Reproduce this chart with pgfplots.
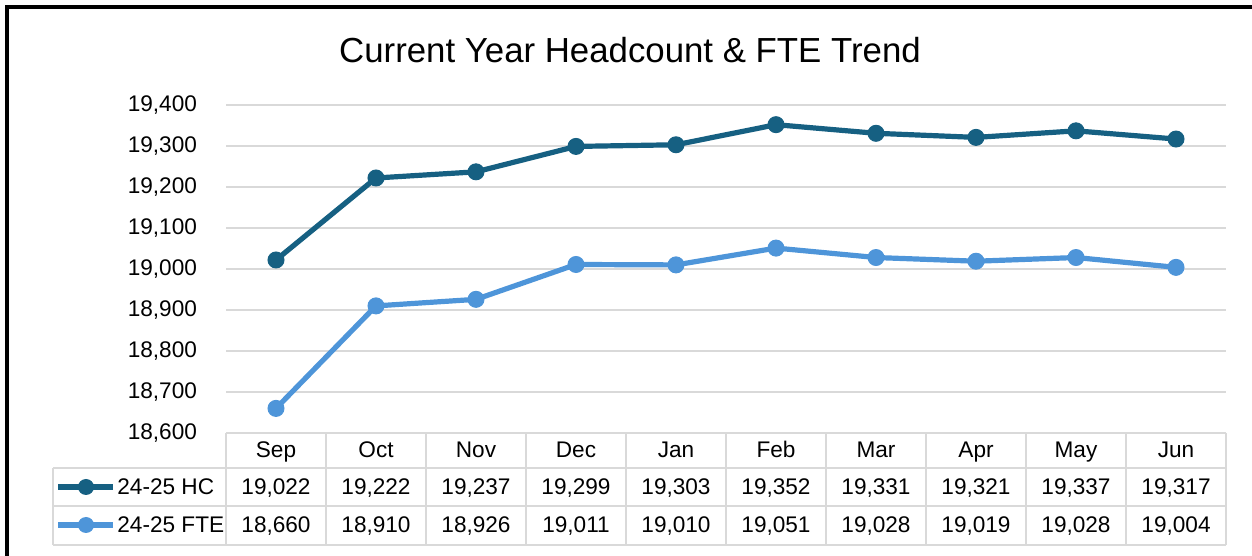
\documentclass[border=0pt]{standalone}
\usepackage{fontspec}
\setmainfont{Liberation Sans}
\usepackage{pgfplots}
\usepackage{pgfplotstable}
\pgfplotsset{compat=1.18}
\pgfkeys{/pgf/number format/.cd, 1000 sep={,}, assume math mode=true}

\definecolor{hc}{RGB}{22,96,130}
\definecolor{fte}{RGB}{78,149,217}
\definecolor{gridgray}{RGB}{217,217,217}

% month index, month, headcount, FTE
\pgfplotstableread{
x month hc fte
0 Sep 19022 18660
1 Oct 19222 18910
2 Nov 19237 18926
3 Dec 19299 19011
4 Jan 19303 19010
5 Feb 19352 19051
6 Mar 19331 19028
7 Apr 19321 19019
8 May 19337 19028
9 Jun 19317 19004
}\trend

\begin{document}
\begin{tikzpicture}[x=1pt,y=1pt,font=\fontsize{11.3}{13}\selectfont]
\path[use as bounding box] (0pt,0pt) rectangle (626pt,278pt);

% chart frame (only left and top edges are inside the picture)
\draw[line width=2pt] (3.5pt,0pt) -- (3.5pt,274.5pt) -- (626pt,274.5pt);

\node[font=\fontsize{17.4}{20}\selectfont] at (315pt,253pt) {Current Year Headcount \& FTE Trend};

\begin{axis}[
  at={(113pt,61.5pt)}, anchor=south west,
  scale only axis, width=500pt, height=164pt,
  xmin=-0.5, xmax=9.5,
  ymin=18600, ymax=19400,
  ytick={18600,18700,...,19400},
  scaled y ticks=false,
  xtick=\empty,
  axis line style={draw=none},
  major tick length=0pt,
  ymajorgrids, grid style={gridgray, line width=0.8pt},
  yticklabel style={xshift=-11pt},
  /pgf/number format/1000 sep={,},
  /pgf/number format/assume math mode=true,
  clip=false,
]
\addplot[hc, line width=2.6pt, mark=*, mark size=4pt, mark options={line width=0.5pt}]
  table[x=x, y=hc] {\trend};
\addplot[fte, line width=2.6pt, mark=*, mark size=4pt, mark options={line width=0.5pt}]
  table[x=x, y=fte] {\trend};
\end{axis}

% data table below the plot
\begin{scope}[gridgray, line width=0.8pt]
  \draw (113pt,61.5pt) -- (613pt,61.5pt);
  \foreach \y in {44,25,5.5} \draw (26.5pt,\y pt) -- (613pt,\y pt);
  \draw (26.5pt,44pt) -- (26.5pt,5.5pt);
  \foreach \k in {0,...,10} \draw (113pt+50pt*\k,61.5pt) -- (113pt+50pt*\k,5.5pt);
\end{scope}

% legend keys
\draw[hc, line width=2.6pt] (29pt,34.5pt) -- (56.5pt,34.5pt);
\fill[hc] (43pt,34.5pt) circle (4pt);
\node[anchor=base west, inner sep=0pt] at (58.5pt,30.5pt) {24-25 HC};
\draw[fte, line width=2.6pt] (29pt,15.5pt) -- (56.5pt,15.5pt);
\fill[fte] (43pt,15.5pt) circle (4pt);
\node[anchor=base west, inner sep=0pt] at (58.5pt,11.5pt) {24-25 FTE};

\foreach \i in {0,...,9} {
  \pgfplotstablegetelem{\i}{month}\of\trend
  \node[anchor=base] at (138pt+50pt*\i,49pt) {\pgfplotsretval};
  \pgfplotstablegetelem{\i}{hc}\of\trend
  \node[anchor=base] at (138pt+50pt*\i,30.5pt) {\pgfmathprintnumber{\pgfplotsretval}};
  \pgfplotstablegetelem{\i}{fte}\of\trend
  \node[anchor=base] at (138pt+50pt*\i,11.5pt) {\pgfmathprintnumber{\pgfplotsretval}};
}
\end{tikzpicture}
\end{document}
